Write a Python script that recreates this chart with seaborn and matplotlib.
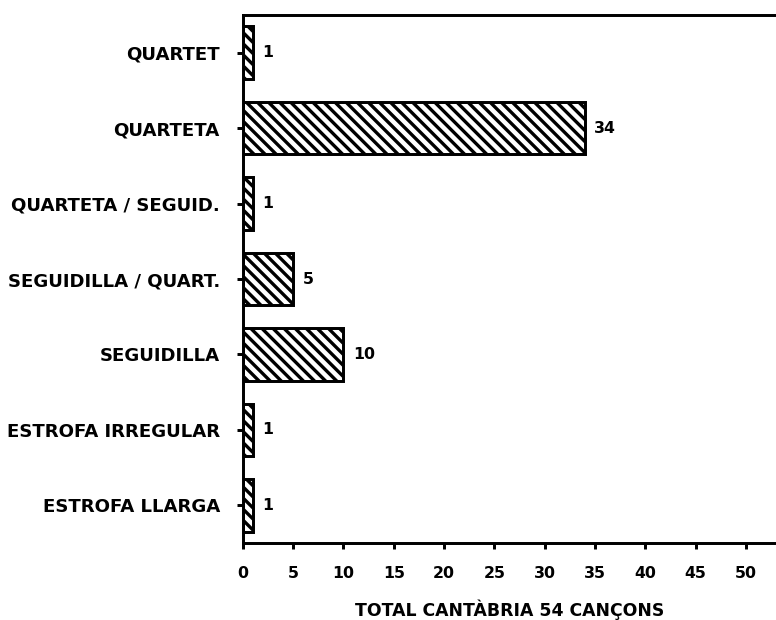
import pandas as pd
import seaborn as sns
import matplotlib.pyplot as plt

estrofes = ['QUARTET', 'QUARTETA', 'QUARTETA / SEGUID.', 'SEGUIDILLA / QUART.',
            'SEGUIDILLA', 'ESTROFA IRREGULAR', 'ESTROFA LLARGA']
cancons = [1, 34, 1, 5, 10, 1, 1]
xticks = [0, 5, 10, 15, 20, 25, 30, 35, 40, 45, 50]
titol_x = 'TOTAL CANTÀBRIA 54 CANÇONS'

df = pd.DataFrame({'estrofa': estrofes, 'cancons': cancons})

sns.set_theme(style='white')
plt.rcParams['font.family'] = ['DejaVu Sans']
plt.rcParams['font.weight'] = 'bold'
plt.rcParams['hatch.color'] = 'black'
plt.rcParams['hatch.linewidth'] = 1.8

fig = plt.figure(figsize=(5.82, 4.65), dpi=133.34)
ax = fig.add_axes([0.313, 0.124, 0.687, 0.852])

sns.barplot(data=df, x='cancons', y='estrofa', orient='h', color='white',
            edgecolor='black', linewidth=1.6, hatch='\\\\\\\\', width=0.7, ax=ax)

for c in ax.containers:
    ax.bar_label(c, padding=5, fontsize=8.5, fontweight='bold', color='black')

ax.set_xlim(0, 53)
ax.set_xticks(xticks)
ax.set_xlabel(titol_x, fontsize=9.3, fontweight='bold', color='black', labelpad=10)
ax.set_ylabel('')

for s in ['left', 'top', 'bottom']:
    ax.spines[s].set_visible(True)
    ax.spines[s].set_color('black')
    ax.spines[s].set_linewidth(1.6)
ax.spines['right'].set_visible(False)

ax.tick_params(axis='y', left=True, direction='out', length=3.5, width=1.6,
               pad=9, labelsize=9.8, colors='black')
ax.tick_params(axis='x', bottom=True, direction='out', length=3.5, width=1.6,
               pad=9, labelsize=8.5, colors='black')
for lab in ax.get_xticklabels() + ax.get_yticklabels():
    lab.set_fontweight('bold')

plt.savefig('out.png', dpi=133.34)
